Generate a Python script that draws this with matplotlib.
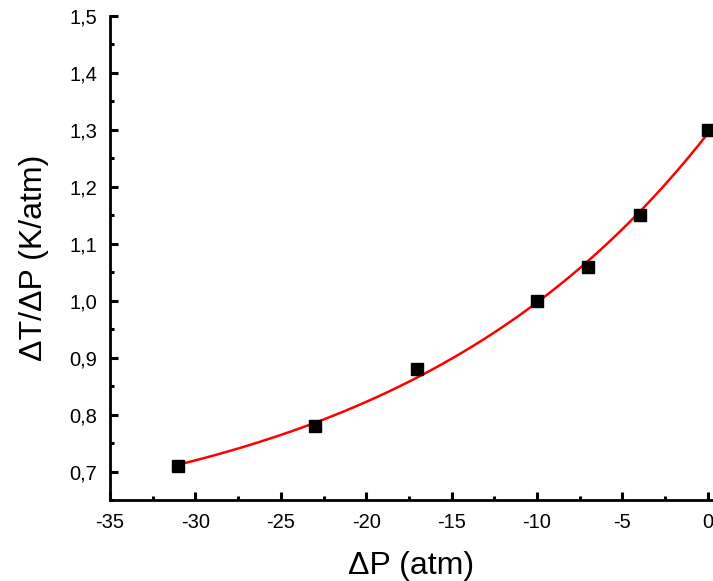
import numpy as np
import matplotlib.pyplot as plt
from matplotlib.ticker import FuncFormatter, MultipleLocator, AutoMinorLocator

plt.rcParams['font.family'] = ['Liberation Sans', 'DejaVu Sans']

# measured points
dP = [-31, -23, -17, -10, -7, -4, 0]
dT_dP = [0.71, 0.78, 0.88, 1.00, 1.06, 1.15, 1.30]

# exponential fit y = y0 + A*exp(x/t): scan t, linear least squares for y0, A
x = np.array(dP, dtype=float)
y = np.array(dT_dP)
best = None
for t in np.linspace(5, 200, 2000):
    M = np.column_stack([np.ones_like(x), np.exp(x / t)])
    c, res, *_ = np.linalg.lstsq(M, y, rcond=None)
    err = np.sum((M @ c - y) ** 2)
    if best is None or err < best[0]:
        best = (err, t, c)
_, t, (y0, A) = best
xfit = np.linspace(x.min(), x.max(), 200)
yfit = y0 + A * np.exp(xfit / t)

fig = plt.figure(figsize=(7.13, 5.81), dpi=100)
ax = fig.add_axes([110/713, 1 - 500/581, 1 - 110/713, (500 - 16)/581])

ax.plot(xfit, yfit, color='red', lw=1.8, zorder=2)
ax.plot(dP, dT_dP, 's', color='black', ms=8, zorder=3)

ax.set_xlim(-35, 0.3)
ax.set_ylim(0.65, 1.5)
ax.xaxis.set_major_locator(MultipleLocator(5))
ax.xaxis.set_minor_locator(AutoMinorLocator(2))
ax.yaxis.set_major_locator(MultipleLocator(0.1))
ax.yaxis.set_minor_locator(AutoMinorLocator(2))
ax.yaxis.set_major_formatter(FuncFormatter(lambda v, p: f"{v:.1f}".replace('.', ',')))
ax.xaxis.set_major_formatter(FuncFormatter(lambda v, p: f"{v:.0f}"))

for s in ['top', 'right']:
    ax.spines[s].set_visible(False)
for s in ['left', 'bottom']:
    ax.spines[s].set_linewidth(2.0)

ax.tick_params(which='major', direction='in', length=6, width=2.2, labelsize=14.5, pad=9)
ax.tick_params(which='minor', direction='in', length=3, width=2.2)

ax.set_xlabel('ΔP (atm)', fontsize=23, labelpad=14)
ax.set_ylabel('ΔT/ΔP (K/atm)', fontsize=23, labelpad=15)

fig.savefig('out.png', dpi=100)
